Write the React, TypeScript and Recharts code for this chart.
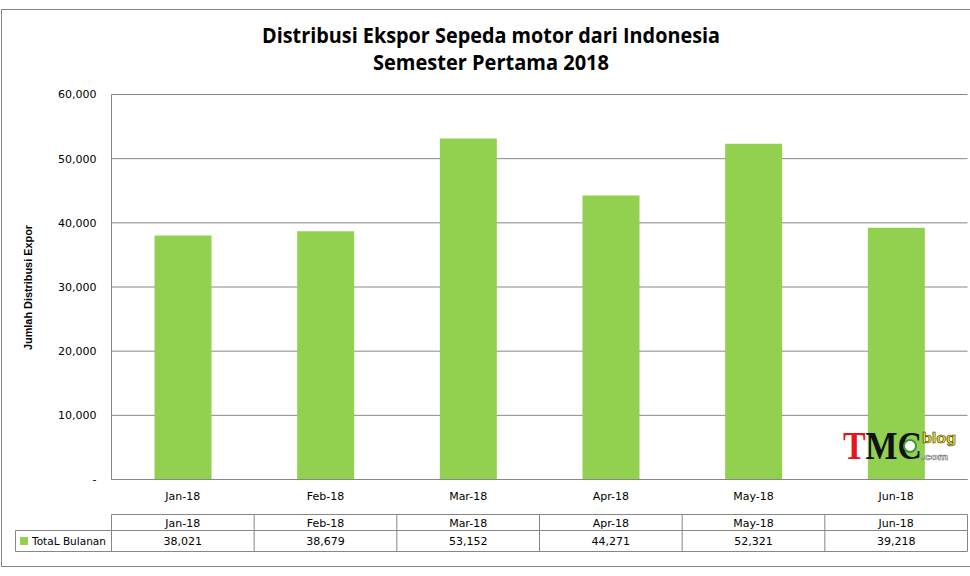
import React from 'react';
import { BarChart, Bar, XAxis, YAxis, CartesianGrid } from 'recharts';

const months = ['Jan-18', 'Feb-18', 'Mar-18', 'Apr-18', 'May-18', 'Jun-18'];
const totals = [38021, 38679, 53152, 44271, 52321, 39218];
const yTicks = [0, 10000, 20000, 30000, 40000, 50000, 60000];
const seriesName = 'TotaL Bulanan';
const titleLines = ['Distribusi Ekspor Sepeda motor dari Indonesia', 'Semester Pertama 2018'];
const yAxisTitle = 'Jumlah Distribusi Expor';

const data = months.map((m, i) => ({ month: m, value: totals[i] }));

const W = 970;
const H = 576;
const PLOT_LEFT = 111.5;
const PLOT_RIGHT = 967.5;
const PLOT_TOP = 94.5;
const PLOT_BOTTOM = 479.5;
const X_AXIS_H = 30;
const GRID = '#878787';
const GREEN = '#92D050';
const FONT = '"DejaVu Sans", Tahoma, sans-serif';

const fmt = (v: number) => (v === 0 ? '-' : v.toLocaleString('en-US'));

export default function App() {
  const colW = (PLOT_RIGHT - PLOT_LEFT) / months.length;
  const tRow1 = 514.5;
  const tRow2 = 530.5;
  const tRow3 = 551.5;
  return (
    <div style={{ position: 'fixed', left: 0, top: 0, width: W, height: H, background: '#fff' }}>
      <div style={{ position: 'absolute', left: 0, top: 0 }}>
        <BarChart
          width={W}
          height={H}
          data={data}
          margin={{ top: PLOT_TOP, right: W - PLOT_RIGHT, bottom: H - PLOT_BOTTOM - X_AXIS_H, left: 0 }}
        >
          <CartesianGrid vertical={false} stroke={GRID} strokeWidth={1} />
          <XAxis
            dataKey="month"
            height={X_AXIS_H}
            axisLine={{ stroke: GRID }}
            tickLine={false}
            tickSize={0}
            tickMargin={13}
            tick={{ fill: '#000', fontSize: 11, fontFamily: FONT }}
            interval={0}
          />
          <YAxis
            width={PLOT_LEFT}
            domain={[0, 60000]}
            ticks={yTicks}
            tickFormatter={fmt}
            axisLine={{ stroke: GRID }}
            tickLine={false}
            tickSize={0}
            tickMargin={15}
            tick={{ fill: '#000', fontSize: 11, fontFamily: FONT }}
            interval={0}
          />
          <Bar dataKey="value" name={seriesName} fill={GREEN} barSize={57} isAnimationActive={false} />
        </BarChart>
      </div>
      <svg
        width={W}
        height={H}
        style={{ position: 'absolute', left: 0, top: 0, pointerEvents: 'none' }}
      >
        <rect x={1.5} y={9.5} width={980} height={557} fill="none" stroke={GRID} strokeWidth={1} />
        <text
          x={491}
          y={43.3}
          textAnchor="middle"
          fontFamily='"Open Sans", sans-serif'
          fontWeight="bold"
          fontSize={21}
          textLength={458}
          lengthAdjust="spacingAndGlyphs"
          fill="#000"
        >
          {titleLines[0]}
        </text>
        <text
          x={491}
          y={70}
          textAnchor="middle"
          fontFamily='"Open Sans", sans-serif'
          fontWeight="bold"
          fontSize={21}
          textLength={236}
          lengthAdjust="spacingAndGlyphs"
          fill="#000"
        >
          {titleLines[1]}
        </text>
        <text
          x={28}
          y={287.5}
          transform="rotate(-90, 28, 287.5)"
          textAnchor="middle"
          dominantBaseline="central"
          fontFamily='"Liberation Sans", Arial, sans-serif'
          fontWeight="bold"
          fontSize={10.5}
          textLength={125}
          lengthAdjust="spacingAndGlyphs"
          fill="#000"
        >
          {yAxisTitle}
        </text>

        {/* data table */}
        <line x1={PLOT_LEFT} x2={PLOT_RIGHT} y1={tRow1} y2={tRow1} stroke={GRID} />
        <line x1={15.5} x2={PLOT_RIGHT} y1={tRow2} y2={tRow2} stroke={GRID} />
        <line x1={15.5} x2={PLOT_RIGHT} y1={tRow3} y2={tRow3} stroke={GRID} />
        <line x1={15.5} x2={15.5} y1={tRow2} y2={tRow3} stroke={GRID} />
        {months.map((m, i) => (
          <line
            key={'v' + m}
            x1={PLOT_LEFT + i * colW}
            x2={PLOT_LEFT + i * colW}
            y1={tRow1}
            y2={tRow3}
            stroke={GRID}
          />
        ))}
        <line x1={PLOT_RIGHT} x2={PLOT_RIGHT} y1={tRow1} y2={tRow3} stroke={GRID} />
        {months.map((m, i) => (
          <text
            key={'h' + m}
            x={PLOT_LEFT + (i + 0.5) * colW}
            y={526.5}
            textAnchor="middle"
            fontFamily={FONT}
            fontSize={11}
            fill="#000"
          >
            {m}
          </text>
        ))}
        {totals.map((v, i) => (
          <text
            key={'d' + i}
            x={PLOT_LEFT + (i + 0.5) * colW}
            y={544.5}
            textAnchor="middle"
            fontFamily={FONT}
            fontSize={11}
            fill="#000"
          >
            {fmt(v)}
          </text>
        ))}
        <rect x={20} y={537} width={8} height={8} fill={GREEN} />
        <text x={32} y={544.5} fontFamily={FONT} fontSize={11} fill="#000" textLength={74} lengthAdjust="spacingAndGlyphs">
          {seriesName}
        </text>

        {/* watermark logo */}
        <text
          x={843}
          y={459}
          fontFamily='"Liberation Serif", "Times New Roman", serif'
          fontWeight="bold"
          fontSize={40}
          textLength={79}
          lengthAdjust="spacingAndGlyphs"
        >
          <tspan fill="#e8141b">T</tspan>
          <tspan fill="#111">MC</tspan>
        </text>
        <circle cx={910} cy={446} r={6} fill="#fff" stroke="#3a9a3a" strokeWidth={2} />
        <text
          x={922}
          y={443}
          fontFamily='"Liberation Sans", Arial, sans-serif'
          fontWeight="bold"
          fontSize={15}
          fill="#ffe600"
          stroke="#333"
          strokeWidth={0.6}
          textLength={34}
          lengthAdjust="spacingAndGlyphs"
        >
          blog
        </text>
        <text
          x={921}
          y={460}
          fontFamily='"Liberation Sans", Arial, sans-serif'
          fontWeight="bold"
          fontSize={9}
          fill="#fff"
          stroke="#666"
          strokeWidth={0.5}
          textLength={27}
          lengthAdjust="spacingAndGlyphs"
        >
          .com
        </text>
      </svg>
    </div>
  );
}
